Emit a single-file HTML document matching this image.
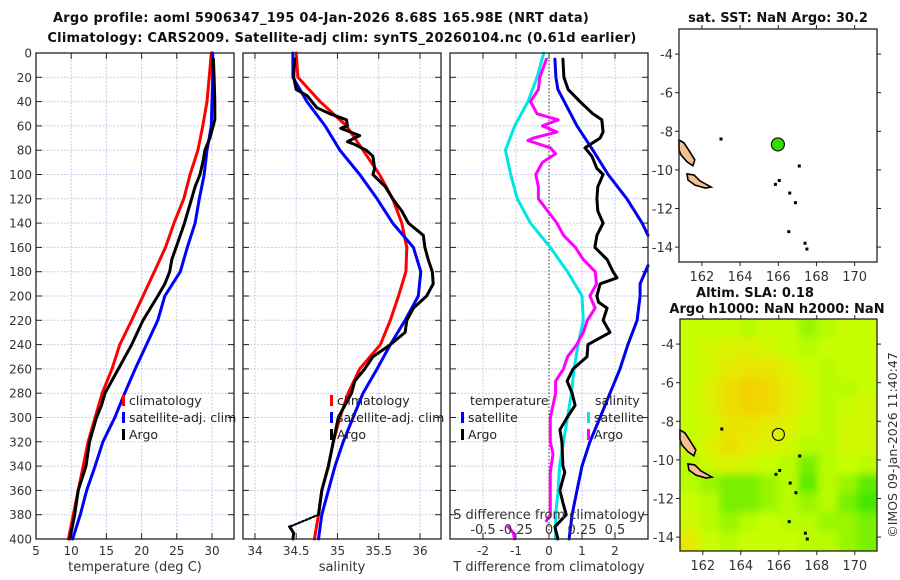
<!DOCTYPE html>
<html><head><meta charset="utf-8">
<style>
html,body{margin:0;padding:0;background:#fff;}
svg{display:block;font-family:"DejaVu Sans","Liberation Sans",sans-serif;}
.t{font-weight:bold;font-size:13px;fill:#111;}
.tm{letter-spacing:0.25px;}
.tk{font-size:12px;fill:#333;}
.lg{font-size:12.5px;fill:#222;}
</style></head>
<body>
<svg id="fig" width="900" height="580" viewBox="0 0 900 580">
<defs>
<filter id="blur" x="-5%" y="-5%" width="110%" height="110%"><feGaussianBlur stdDeviation="4"/></filter>
<clipPath id="slaclip"><rect x="680" y="319" width="197" height="232"/></clipPath>
</defs>
<text class="t tm" x="321" y="22" text-anchor="middle">Argo profile: aoml 5906347_195 04-Jan-2026 8.68S 165.98E (NRT data)</text>
<text class="t tm" x="342" y="42" text-anchor="middle">Climatology: CARS2009. Satellite-adj clim: synTS_20260104.nc (0.61d earlier)</text>
<text class="t" x="778" y="22" text-anchor="middle">sat. SST: NaN Argo: 30.2</text>
<text class="t" x="755" y="297" text-anchor="middle">Altim. SLA: 0.18</text>
<text class="t" x="777" y="313" text-anchor="middle">Argo h1000: NaN h2000: NaN</text>
<text x="0" y="0" transform="translate(897,445) rotate(-90)" text-anchor="middle" style="font-size:12.5px;fill:#333">©IMOS 09-Jan-2026 11:40:47</text>
</svg>
<script>
// ---- data ----
const depthTicks=[0,20,40,60,80,100,120,140,160,180,200,220,240,260,280,300,320,340,360,380,400];
const tempTicks=[5,10,15,20,25,30];
const salTicks=[34,34.5,35,35.5,36];
const tdiffTicks=[-2,-1,0,1,2];
const sdiffTicks=[-0.5,-0.25,0,0.25,0.5];
const sdiffLabels=["-0.5","-0.25","0","0.25","0.5"];
const clD=[0,20,40,60,80,100,120,140,160,180,200,220,240,260,280,300,320,340,360,380,400];
const tempClim=[29.9,29.6,29.3,28.7,28.0,26.9,26.0,24.6,23.4,21.8,20.2,18.6,16.9,15.8,14.4,13.4,12.4,11.7,11.0,10.3,9.6];
const tempSat=[30.1,30.1,30.0,29.9,29.3,28.9,28.2,27.6,26.5,25.5,23.3,22.3,20.7,19.1,17.6,16.2,14.5,13.4,12.2,11.3,10.2];
const aD=[5,20,40,55,70,80,90,100,110,120,140,160,170,180,190,200,220,240,260,280,290,300,320,340,360,380,400];
const tempArgo=[30.2,30.3,30.4,30.4,29.7,29.0,28.7,28.3,27.6,27.1,26.1,24.9,24.3,24.0,23.3,22.3,20.2,18.6,16.7,14.8,14.3,13.6,12.6,12.1,11.0,10.5,9.8];
const salClim=[34.5,34.52,34.79,35.11,35.31,35.51,35.67,35.78,35.84,35.83,35.74,35.64,35.52,35.27,35.13,35.03,34.95,34.89,34.81,34.77,34.72];
const salSat=[34.46,34.46,34.63,34.85,35.03,35.27,35.48,35.67,35.92,36.01,35.98,35.82,35.64,35.48,35.31,35.19,35.07,34.97,34.89,34.81,34.77];
const sD=[5,20,30,35,45,50,55,60,62,68,73,75,80,85,95,100,110,120,130,140,150,160,170,180,190,200,210,220,230,240,250,260,270,280,290,300,320,340,360,380];
const salArgo=[34.48,34.47,34.5,34.63,34.75,34.91,35.11,35.12,35.04,35.27,35.12,35.2,35.35,35.43,35.45,35.43,35.58,35.67,35.78,35.86,36.04,36.06,36.1,36.15,36.16,36.08,35.92,35.84,35.82,35.64,35.43,35.33,35.21,35.17,35.09,35.01,34.95,34.89,34.81,34.77];
const salArgoDeepD=[390,395,400];
const salArgoDeep=[34.42,34.47,34.46];
const sdSat=[-0.04,-0.09,-0.16,-0.26,-0.33,-0.29,-0.24,-0.14,0.01,0.14,0.25,0.26,0.22,0.19,0.17,0.14,0.11,0.08,0.07,0.05,0.05];
const mD=[5,20,30,40,50,55,60,65,70,72,78,83,90,100,110,120,130,140,150,160,170,180,190,200,210,220,230,240,250,260,270,280,290,300,320,330,345,360,380,385];
const sdArgo=[-0.02,-0.07,-0.08,-0.14,-0.09,0.07,-0.05,0.06,-0.12,-0.16,0.01,0.05,-0.05,-0.1,-0.08,-0.08,-0.01,0.06,0.11,0.2,0.26,0.35,0.36,0.31,0.35,0.29,0.26,0.21,0.14,0.11,0.05,0.05,0.03,0.01,0.01,0.03,0.01,0.01,0.01,-0.02];
const sdArgoDeepD=[390,395,400];
const sdArgoDeep=[-0.31,-0.27,-0.26];
const bD1=[5,20,30,60,80,100,120,140,150];
const tdSat1=[0.18,0.21,0.27,0.85,1.33,1.79,2.36,2.82,3.0];
const bD2=[175,190,200,220,240,260,280,300,320,340,360,380,400];
const tdSat2=[3.0,2.76,2.76,2.67,2.39,2.15,1.85,1.55,1.24,1.0,0.85,0.7,0.61];
const kD=[5,20,30,40,50,55,65,70,78,85,95,100,110,120,130,140,150,160,170,180,185,190,200,205,210,220,230,240,250,260,270,280,290,300,310,320,340,345,360,370,380,390,400];
const tdArgo=[0.42,0.45,0.58,0.94,1.33,1.6,1.64,1.55,1.09,1.3,1.45,1.64,1.48,1.45,1.48,1.64,1.45,1.39,1.76,1.94,2.06,1.55,1.45,1.5,1.76,1.64,1.85,1.18,1.15,0.73,0.55,0.7,0.79,0.55,0.33,0.39,0.42,0.48,0.33,0.42,0.52,0.18,0.27];
const mapLonTicks=[162,164,166,168,170];
const mapLatTicks=[-4,-6,-8,-10,-12,-14];
const argoLon=165.98, argoLat=-8.68;
const island1Lon=[160.8,161.06,161.37,161.63,161.53,161.22,160.9,160.8];
const island1Lat=[-8.45,-8.6,-9.07,-9.48,-9.79,-9.58,-9.22,-8.96];
const island2Lon=[161.22,161.58,161.9,162.48,162.17,161.64,161.27];
const island2Lat=[-10.21,-10.26,-10.57,-10.89,-10.94,-10.79,-10.53];
const isletLon=[165.85,166.05,166.6,166.9,167.4,167.5,166.55,163.0,167.1];
const isletLat=[-10.75,-10.55,-11.2,-11.7,-13.8,-14.1,-13.2,-8.4,-9.8];
const slaGrid=[
[.5,.5,.5,.45,.5,.5,.4,.45,.5,.5],
[.5,.55,.6,.6,.55,.5,.45,.5,.5,.5],
[.5,.55,.65,.7,.7,.6,.5,.45,.5,.5],
[.5,.6,.75,.85,.8,.65,.55,.45,.45,.5],
[.5,.6,.75,.85,.8,.65,.55,.45,.5,.55],
[.5,.55,.7,.7,.65,.6,.5,.45,.55,.55],
[.5,.6,.75,.65,.6,.55,.45,.45,.55,.55],
[.45,.55,.6,.55,.5,.45,.35,.45,.5,.45],
[.45,.4,.35,.35,.4,.45,.3,.45,.4,.3],
[.5,.45,.35,.35,.4,.45,.4,.45,.35,.25],
[.55,.45,.4,.45,.5,.45,.45,.4,.4,.35],
[.65,.5,.45,.5,.5,.5,.45,.45,.4,.35]];

// ---- drawing ----
const svg=document.getElementById('fig');
const NS='http://www.w3.org/2000/svg';
function mk(tag,attrs,parent){const e=document.createElementNS(NS,tag);for(const k in attrs)e.setAttribute(k,attrs[k]);(parent||svg).appendChild(e);return e;}
const TOP=53,BOT=539;
const yD=d=>TOP+(d/400)*(BOT-TOP);
const panels=[
 {l:36,r:234,min:5,max:33.13,ticks:tempTicks,labels:tempTicks.map(String),title:'temperature (deg C)',name:'temperature'},
 {l:243,r:441,min:33.855,max:36.255,ticks:salTicks,labels:salTicks.map(String),title:'salinity',name:'salinity'},
 {l:450,r:648,min:-3,max:3,ticks:tdiffTicks,labels:tdiffTicks.map(String),title:'T difference from climatology',name:'difference'}];
panels.forEach((p,pi)=>{
 p.x=v=>p.l+(v-p.min)/(p.max-p.min)*(p.r-p.l);
 const g=mk('g',{});
 
 
 depthTicks.forEach(d=>{const y=yD(d);
  if(d>0&&d<400){const gl=mk('line',{x1:p.l,x2:p.r,y1:y,y2:y,stroke:'#c6cbe6','stroke-width':1,'stroke-dasharray':'2,1.5'},g);
   
   }
  mk('line',{x1:p.l,x2:p.l+6,y1:y,y2:y,stroke:'#222'},g);
  mk('line',{x1:p.r,x2:p.r-6,y1:y,y2:y,stroke:'#222'},g);
  if(pi===0){const t=mk('text',{x:p.l-4,y:y+4.5,'text-anchor':'end',class:'tk'},g);t.textContent=d;
   
   }
 });
 p.ticks.forEach((v,i)=>{const x=p.x(v);
  const gl=mk('line',{x1:x,x2:x,y1:TOP,y2:BOT,stroke:'#c6cbe6','stroke-dasharray':'2,1.5'},g);
  
  
  mk('line',{x1:x,x2:x,y1:BOT,y2:BOT-6,stroke:'#222'},g);
  mk('line',{x1:x,x2:x,y1:TOP,y2:TOP+6,stroke:'#222'},g);
  const t=mk('text',{x:x,y:555,'text-anchor':'middle',class:'tk'},g);t.textContent=p.labels[i];
  
  
 });
 const at=mk('text',{x:(p.l+p.r)/2,y:571,'text-anchor':'middle',class:'tk',style:'font-size:13px'},g);at.textContent=p.title;
 
 
 p.g=g;
});
function series(p,ds,vs,color,name,dash,scale){
 const sx=scale||p.x;
 const pts=ds.map((d,i)=>sx(vs[i]).toFixed(1)+','+yD(d).toFixed(1)).join(' ');
 const e=mk('polyline',{points:pts,fill:'none',stroke:color,'stroke-width':dash?2.2:3,'stroke-linejoin':'round','stroke-linecap':'round','stroke-dasharray':dash||'none'});
 
 
 return e;
}
const P1=panels[0],P2=panels[1],P3=panels[2];
const sX=v=>P3.x(v*4);
const zl=mk('line',{x1:P3.x(0),x2:P3.x(0),y1:TOP,y2:BOT,stroke:'#555533','stroke-dasharray':'1.5,2','stroke-width':1.2});


series(P1,clD,tempClim,'#ff0000','temp-climatology-line');
series(P1,clD,tempSat,'#0000ff','temp-satellite-line');
series(P1,aD,tempArgo,'#000000','temp-argo-line');
series(P2,clD,salClim,'#ff0000','sal-climatology-line');
series(P2,clD,salSat,'#0000ff','sal-satellite-line');
series(P2,sD,salArgo,'#000000','sal-argo-line');
series(P2,[380,390],[34.77,34.42],'#000000','sal-argo-gap-line','2,2');
series(P2,salArgoDeepD,salArgoDeep,'#000000','sal-argo-deep-line');
series(P3,clD,sdSat,'#00e5e5','sdiff-satellite-line',null,sX);
series(P3,mD,sdArgo,'#ff00ff','sdiff-argo-line',null,sX);
series(P3,sdArgoDeepD,sdArgoDeep,'#ff00ff','sdiff-argo-deep-line',null,sX);
series(P3,bD1,tdSat1,'#0000ee','tdiff-satellite-line');
series(P3,bD2,tdSat2,'#0000ee','tdiff-satellite-deep-line');
series(P3,kD,tdArgo,'#000000','tdiff-argo-line');
panels.forEach(p=>{const f=mk('rect',{x:p.l,y:TOP,width:p.r-p.l,height:BOT-TOP,fill:'none',stroke:'#222','stroke-width':1.3});
 
 });
const sdt=mk('text',{x:549,y:519,'text-anchor':'middle',class:'tk',style:'font-size:13px'});sdt.textContent='S difference from climatology';


sdiffTicks.forEach((v,i)=>{const t=mk('text',{x:sX(v),y:534,'text-anchor':'middle',class:'tk',style:'font-size:13px'});t.textContent=sdiffLabels[i];
 
 });
function legend(x,y,color,label){
 const g=mk('g',{});
 
 
 mk('rect',{x:x,y:y-10,width:3,height:11,fill:color},g);
 const t=mk('text',{x:x+7,y:y,class:'lg'},g);t.textContent=label;
}
legend(122,405,'#ff0000','climatology');legend(122,422,'#0000ff','satellite-adj. clim');legend(122,439,'#000000','Argo');
legend(330,405,'#ff0000','climatology');legend(330,422,'#0000ff','satellite-adj. clim');legend(330,439,'#000000','Argo');
const lt=mk('text',{x:470,y:405,class:'lg'});lt.textContent='temperature';


const ls=mk('text',{x:595,y:405,class:'lg'});ls.textContent='salinity';


legend(461,422,'#0000ff','satellite');legend(461,439,'#000000','Argo');
legend(587,422,'#00e5e5','satellite');legend(587,439,'#ff00ff','Argo');
// maps
const palV=[0.2,0.35,0.45,0.5,0.65,0.9];
const palC=[[40,225,0],[120,240,0],[185,252,0],[200,255,0],[228,235,0],[246,205,0]];
function slaColor(v){
 if(v<=palV[0])return 'rgb('+palC[0].join(',')+')';
 for(let i=1;i<palV.length;i++){if(v<=palV[i]){const t=(v-palV[i-1])/(palV[i]-palV[i-1]);
  return 'rgb('+palC[i-1].map((q,k)=>Math.round(q+(palC[i][k]-q)*t)).join(',')+')';}}
 return 'rgb('+palC[palC.length-1].join(',')+')';
}
function map(L,T,R,B,name,heat){
 const lonMin=160.8,lonMax=171.17,latMax=-2.7,latMin=latMax-(B-T)/19.3;
 const mx=lon=>L+(lon-lonMin)/(lonMax-lonMin)*(R-L);
 const my=lat=>T+(latMax-lat)/(latMax-latMin)*(B-T);
 const g=mk('g',{});
 
 
 if(heat){const rows=slaGrid.length,cols=slaGrid[0].length,cw=(R-L)/cols,ch=(B-T)/rows;
  const cg=mk('g',{'clip-path':'url(#slaclip)'},g);
  const hg=mk('g',{filter:'url(#blur)'},cg);
  slaGrid.forEach((row,ri)=>row.forEach((v,ci)=>{
   const x0=ci===0?L-12:L+ci*cw, y0=ri===0?T-12:T+ri*ch;
   const w=(ci===0?cw+12:cw)+(ci===cols-1?12:0.6), h=(ri===0?ch+12:ch)+(ri===rows-1?12:0.6);
   const c=mk('rect',{x:x0,y:y0,width:w,height:h,fill:slaColor(v)},hg);
   
   }));}
 [[island1Lon,island1Lat],[island2Lon,island2Lat]].forEach(([lo,la])=>{
  const p=mk('polygon',{points:lo.map((v,i)=>mx(v).toFixed(1)+','+my(la[i]).toFixed(1)).join(' '),fill:'#f5c090',stroke:'#000','stroke-width':1.6},g);
  
  });
 isletLon.forEach((lo,i)=>{const r=mk('rect',{x:mx(lo)-1.5,y:my(isletLat[i])-1.5,width:3,height:3,fill:'#000'},g);
  
  });
 const ci=mk('circle',{cx:mx(argoLon),cy:my(argoLat),r:heat?6:6.5,fill:heat?'none':'#33dd00',stroke:'#111','stroke-width':1.2},g);
 
 
 mk('rect',{x:L,y:T,width:R-L,height:B-T,fill:'none',stroke:'#222','stroke-width':1.3},g);
 mapLonTicks.forEach(v=>{const x=mx(v);mk('line',{x1:x,x2:x,y1:B,y2:B+4,stroke:'#222'},g);mk('line',{x1:x,x2:x,y1:T,y2:T-4,stroke:'#222'},g);
  const t=mk('text',{x:x,y:B+19,'text-anchor':'middle',class:'tk',style:'font-size:13px'},g);t.textContent=v;
  
  });
 mapLatTicks.forEach(v=>{const y=my(v);mk('line',{x1:L,x2:L-4,y1:y,y2:y,stroke:'#222'},g);mk('line',{x1:R,x2:R+4,y1:y,y2:y,stroke:'#222'},g);
  const t=mk('text',{x:L-6,y:y+5,'text-anchor':'end',class:'tk',style:'font-size:13px'},g);t.textContent=v;
  
  });
}
map(679,29,877,262,'sst-map',false);
map(680,319,877,551,'sla-map',true);
</script>
</body></html>
